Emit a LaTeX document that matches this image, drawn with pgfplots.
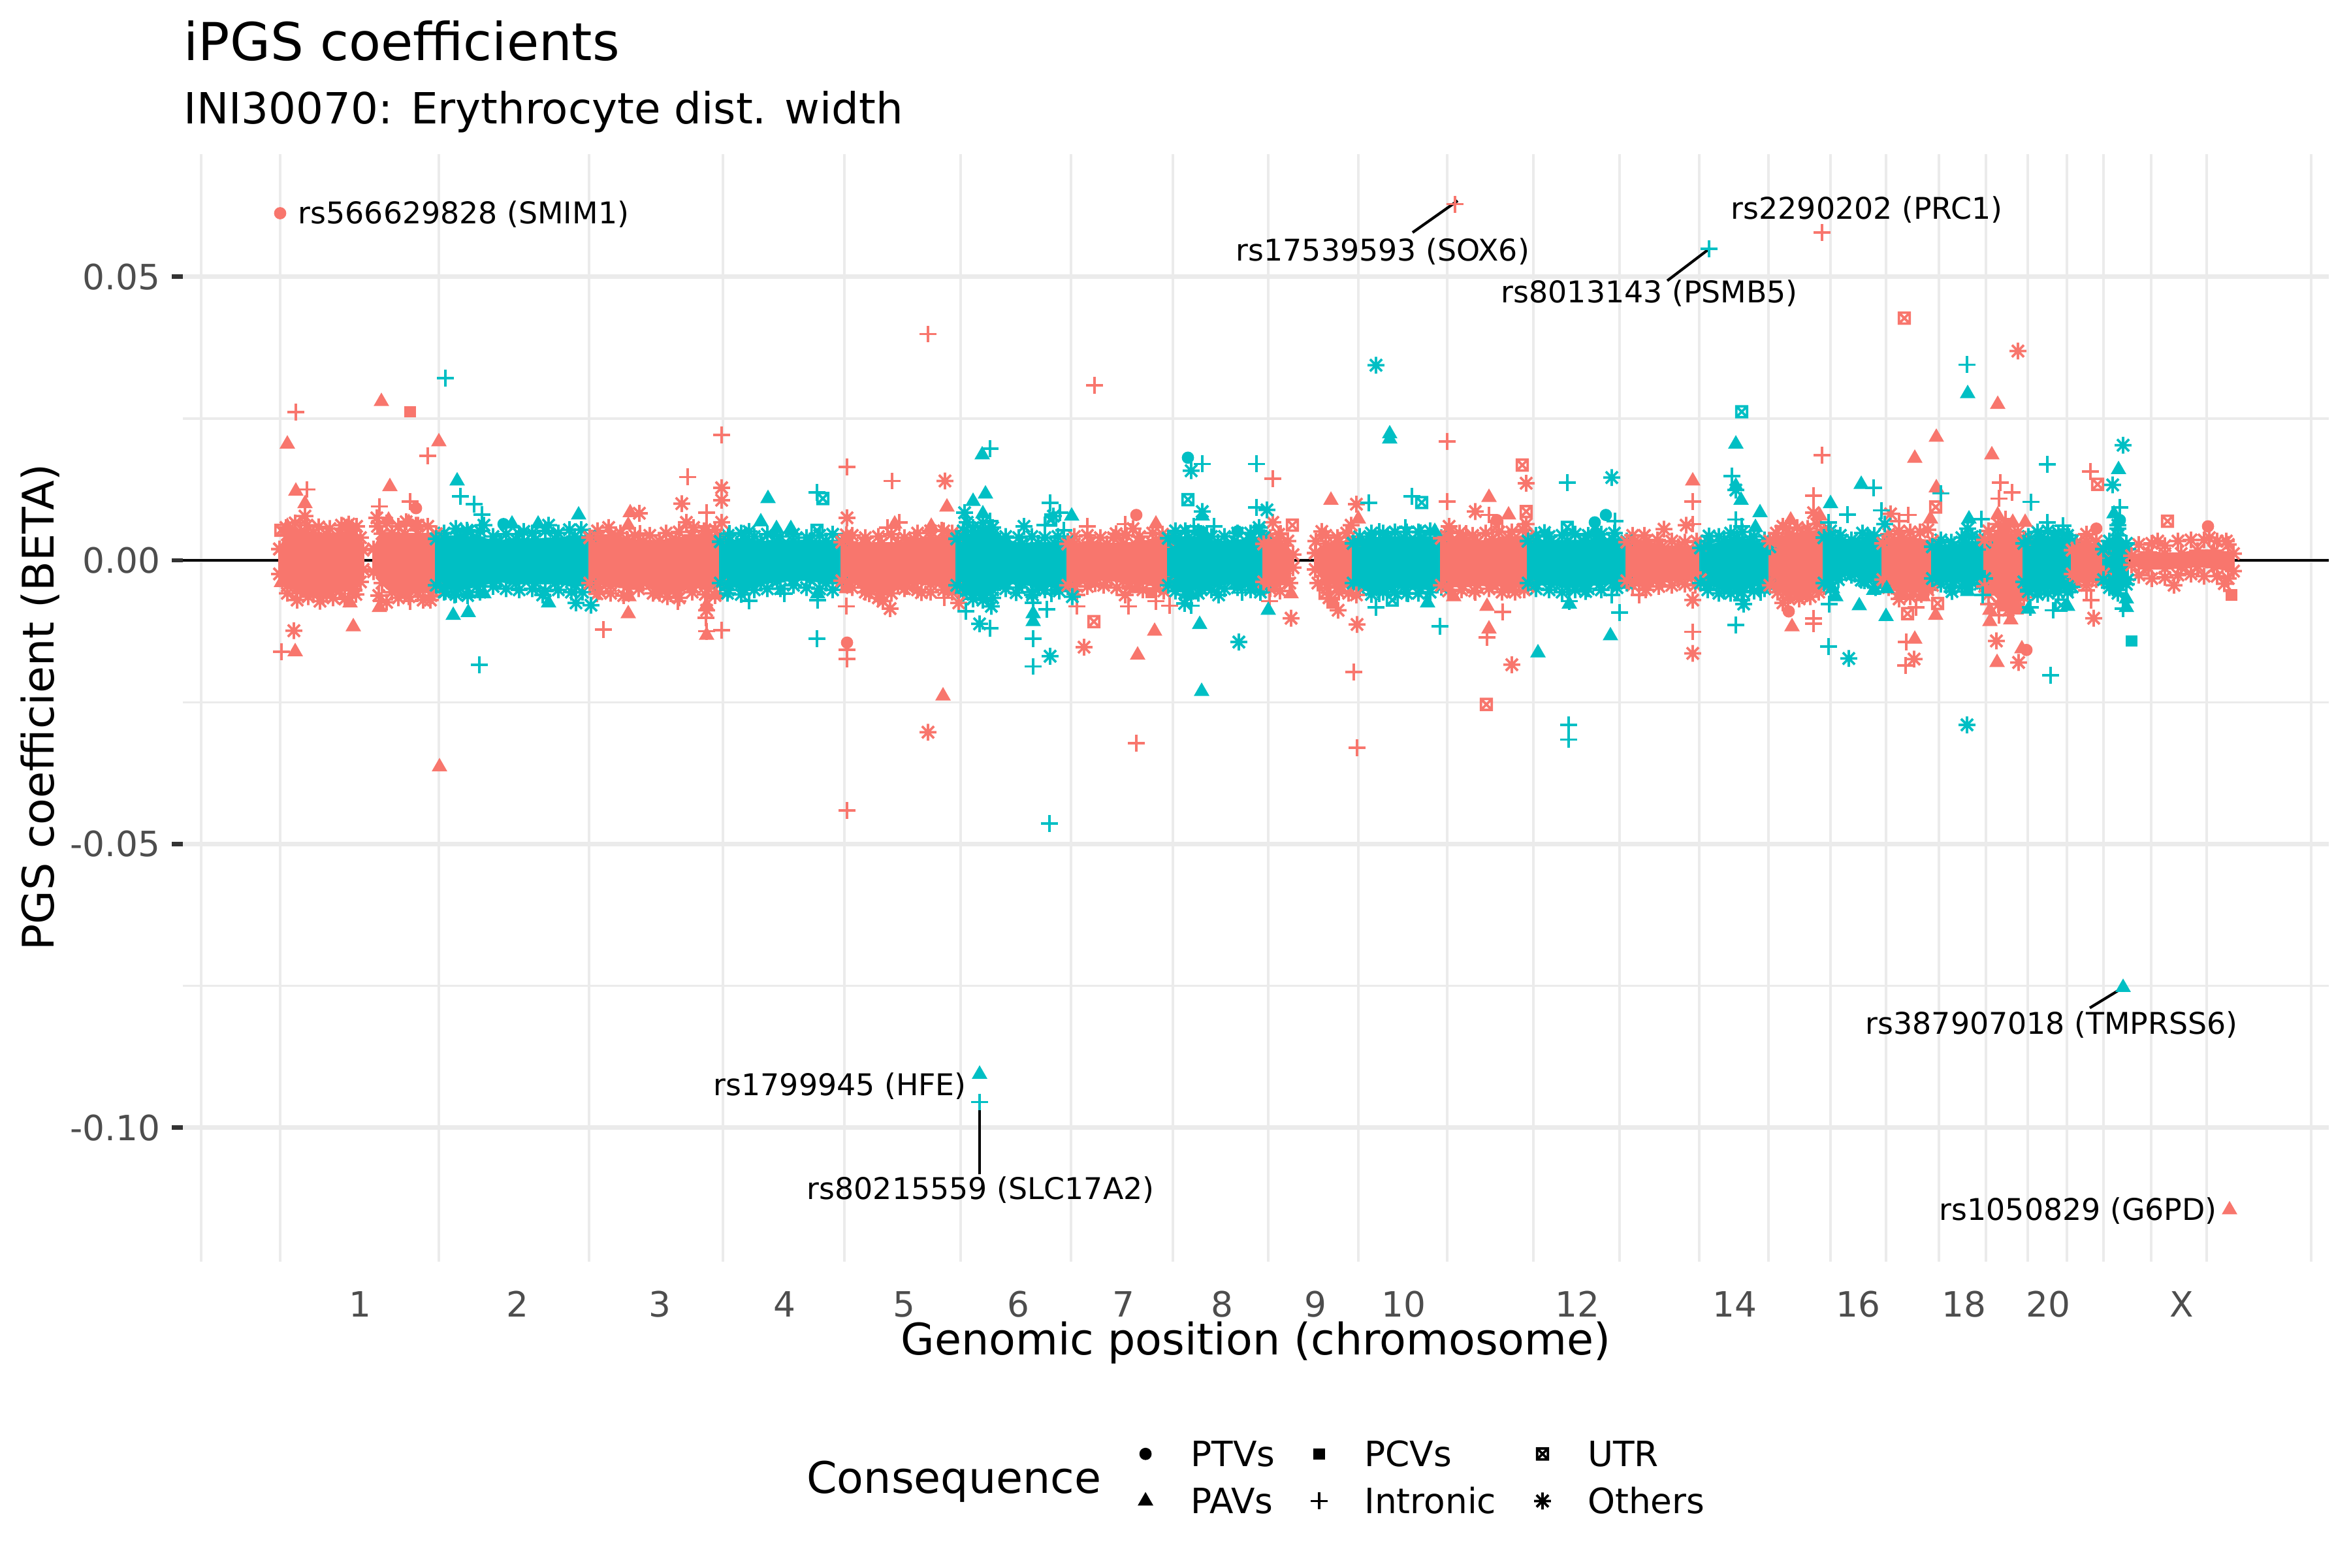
\documentclass[border=0pt]{standalone}
\usepackage{pgfplots}
\pgfplotsset{compat=1.18}
\usepackage{fontspec}
\setmainfont{DejaVu Sans}

\definecolor{cr}{HTML}{F8766D}
\definecolor{ct}{HTML}{00BFC4}
\definecolor{gridc}{HTML}{EBEBEB}
\definecolor{tickc}{HTML}{4D4D4D}

% R shapes 7 and 8
\pgfdeclareplotmark{sqx}{%
  \pgfpathrectangle{\pgfqpoint{-\pgfplotmarksize}{-\pgfplotmarksize}}{\pgfqpoint{2\pgfplotmarksize}{2\pgfplotmarksize}}%
  \pgfpathmoveto{\pgfqpoint{-\pgfplotmarksize}{-\pgfplotmarksize}}\pgfpathlineto{\pgfqpoint{\pgfplotmarksize}{\pgfplotmarksize}}%
  \pgfpathmoveto{\pgfqpoint{-\pgfplotmarksize}{\pgfplotmarksize}}\pgfpathlineto{\pgfqpoint{\pgfplotmarksize}{-\pgfplotmarksize}}%
  \pgfusepathqstroke}
\pgfdeclareplotmark{ast}{%
  \pgfpathmoveto{\pgfqpointpolar{0}{\pgfplotmarksize}}\pgfpathlineto{\pgfqpointpolar{180}{\pgfplotmarksize}}%
  \pgfpathmoveto{\pgfqpointpolar{90}{\pgfplotmarksize}}\pgfpathlineto{\pgfqpointpolar{270}{\pgfplotmarksize}}%
  \pgfpathmoveto{\pgfqpointpolar{45}{\pgfplotmarksize}}\pgfpathlineto{\pgfqpointpolar{225}{\pgfplotmarksize}}%
  \pgfpathmoveto{\pgfqpointpolar{135}{\pgfplotmarksize}}\pgfpathlineto{\pgfqpointpolar{315}{\pgfplotmarksize}}%
  \pgfusepathqstroke}

\tikzset{
  mptv/.style={mark=*,mark size=2.05pt,mark options={draw=none}},
  mpcv/.style={mark=square*,mark size=1.9pt,mark options={draw=none}},
  mpav/.style={mark=triangle*,mark size=2.9pt,mark options={draw=none}},
  mint/.style={mark=+,mark size=3.1pt,mark options={line width=0.9pt}},
  mutr/.style={mark=sqx,mark size=2pt,mark options={line width=0.9pt}},
  moth/.style={mark=ast,mark size=3.1pt,mark options={line width=0.9pt}},
}
\pgfplotsset{
  rr/.style={forget plot,only marks,color=cr},
  tt/.style={forget plot,only marks,color=ct},
  bandr/.style={forget plot,color=cr,fill=cr,line width=0.9pt,moth},
  bandt/.style={forget plot,color=ct,fill=ct,line width=0.9pt,moth},
  conn/.style={forget plot,black,line width=1pt,no marks},
}
\newcommand{\ann}[3]{\node[anchor=base west,inner sep=0pt,font=\fontsize{11}{12}\selectfont] at (axis cs:#1,#2) {#3};}

\begin{document}
\begin{tikzpicture}
\path[use as bounding box] (0,0) rectangle (864pt,576pt);

\begin{axis}[
  at={(67.2pt,112.32pt)},anchor=south west,
  scale only axis,width=788.64pt,height=407.04pt,
  xmin=280,xmax=3566,ymin=-0.12365,ymax=0.07162,
  clip=false,
  axis line style={draw=none},
  xtick={551,792,1010,1201,1384,1559,1720,1871,2014,2149,2415,2656,2845,3007,3136,3341},
  xticklabels={1,2,3,4,5,6,7,8,9,10,12,14,16,18,20,X},
  minor xtick={308,429,672,902,1107,1293,1471,1640,1796,1942,2080,2216,2348,2480,2602,2708,2803,2888,2969,3041,3105,3165,3221,3294,3379,3539},
  ytick={-0.1,-0.05,0,0.05},
  yticklabels={-0.10,-0.05,0.00,0.05},
  minor ytick={-0.075,-0.025,0.025},
  xmajorgrids=false,xminorgrids=true,ymajorgrids=true,yminorgrids=true,
  major grid style={gridc,line width=1.6pt},
  minor grid style={gridc,line width=0.8pt},
  tick align=outside,
  ytick pos=left,
  xtick style={draw=none},
  minor tick length=0pt,
  minor tick style={draw=none},
  ytick style={draw=black!80,line width=1.6pt},
  major tick length=4.08pt,
  xticklabel style={font=\fontsize{12.8}{14}\selectfont,color=tickc,anchor=base,inner sep=0pt,yshift=-16.3pt},
  yticklabel style={font=\fontsize{12.8}{14}\selectfont,color=tickc,anchor=east,inner sep=0pt,xshift=-4pt},
  legend columns=3,
  legend cell align=left,
  legend image code/.code={\path[draw=none] (-5pt,0pt) -- (5pt,0pt); \draw[#1] plot coordinates {(0pt,4.7pt)};},
  legend style={
    at={(axis description cs:0.4420,-0.16)},anchor=north west,
    draw=none,fill=none,inner sep=0pt,
    font=\fontsize{12.8}{14}\selectfont,
    nodes={inner sep=0pt,text height=10pt,text depth=7.3pt,anchor=base west},
    /tikz/column 2/.style={column sep=11.3pt},
    /tikz/column 4/.style={column sep=12pt},
    /tikz/column 1/.style={column sep=11.6pt},
    /tikz/column 3/.style={column sep=11.6pt},
    /tikz/column 5/.style={column sep=11.6pt},
  },
]
\addlegendimage{only marks,black,mptv}\addlegendentry{PTVs}
\addlegendimage{only marks,black,mpcv}\addlegendentry{PCVs}
\addlegendimage{only marks,black,mutr}\addlegendentry{UTR}
\addlegendimage{only marks,black,mpav}\addlegendentry{PAVs}
\addlegendimage{only marks,black,mint}\addlegendentry{Intronic}
\addlegendimage{only marks,black,moth}\addlegendentry{Others}

\addplot[forget plot,black,line width=1.1pt,no marks] coordinates {(280,0) (3566,0)};

% fringe of the dense bands, estimated along their edges
\addplot[rr,moth] coordinates {(438,0.0058)(452,0.0066)(470,0.0062)(488,0.0059)(505,0.0056)(523,0.0062)(534,0.0064)(546,0.0060)(578,0.0060)(592,0.0066)(610,0.0060)(622,0.0068)(640,0.0062)(655,0.0060)
 (440,-0.0058)(455,-0.0070)(472,-0.0064)(490,-0.0072)(510,-0.0066)(528,-0.0068)(545,-0.0060)(580,-0.0062)(592,-0.0074)(610,-0.0066)(626,-0.0064)(648,-0.0070)(660,-0.0062)
 (915,0.0052)(932,0.0058)(950,0.0048)(972,0.0044)(995,0.0044)(1020,0.0048)(1040,0.0050)(1062,0.0058)(1078,0.0052)(1095,0.0054)
 (918,-0.0055)(935,-0.0058)(955,-0.0062)(978,-0.0050)(1000,-0.0058)(1022,-0.0064)(1040,-0.0066)(1060,-0.0056)(1080,-0.0060)(1095,-0.0062)
 (1305,0.0044)(1325,0.0040)(1345,0.0042)(1365,0.0046)(1385,0.0040)(1405,0.0048)(1425,0.0052)(1445,0.0052)(1458,0.0048)
 (1305,-0.0048)(1325,-0.0056)(1345,-0.0066)(1365,-0.0058)(1385,-0.0050)(1405,-0.0052)(1425,-0.0056)(1445,-0.0052)(1458,-0.0056)
 (1645,0.0042)(1665,0.0044)(1685,0.0040)(1705,0.0040)(1725,0.0044)(1745,0.0042)(1765,0.0048)(1780,0.0046)
 (1645,-0.0052)(1665,-0.0046)(1690,-0.0044)(1710,-0.0048)(1730,-0.0046)(1750,-0.0052)(1770,-0.0050)(1782,-0.0054)
 (1945,0.0040)(1958,0.0046)(1972,0.0034)(2015,0.0034)(2030,0.0044)(2048,0.0040)(2062,0.0048)
 (1945,-0.0050)(1960,-0.0054)(1975,-0.0040)(2018,-0.0040)(2032,-0.0048)(2050,-0.0056)(2065,-0.0058)
 (2218,0.0050)(2235,0.0048)(2255,0.0044)(2275,0.0048)(2295,0.0050)(2315,0.0050)(2332,0.0054)
 (2218,-0.0054)(2238,-0.0052)(2258,-0.0054)(2280,-0.0050)(2300,-0.0056)(2320,-0.0056)(2334,-0.0052)
 (2500,0.0044)(2518,0.0044)(2538,0.0036)(2560,0.0034)(2580,0.0032)(2598,0.0034)
 (2500,-0.0044)(2520,-0.0052)(2540,-0.0046)(2560,-0.0044)(2580,-0.0042)(2596,-0.0044)
 (2720,0.0048)(2735,0.0056)(2752,0.0058)(2768,0.0056)(2782,0.0064)(2722,-0.0056)(2738,-0.0066)(2755,-0.0068)(2772,-0.0064)(2785,-0.0056)
 (2892,0.0046)(2908,0.0052)(2925,0.0050)(2940,0.0050)(2952,0.0054)(2892,-0.0048)(2908,-0.0058)(2925,-0.0064)(2942,-0.0060)(2952,-0.0052)
 (3045,0.0052)(3060,0.0064)(3075,0.0060)(3090,0.0050)(3045,-0.0060)(3060,-0.0078)(3075,-0.0088)(3090,-0.0070)
 (3180,0.0032)(3195,0.0046)(3210,0.0034)(3180,-0.0036)(3195,-0.0044)(3210,-0.0034)
 (3275,0.0028)(3295,0.0030)(3315,0.0026)(3335,0.0034)(3355,0.0036)(3375,0.0036)(3395,0.0034)(3412,0.0028)
 (3275,-0.0026)(3295,-0.0032)(3315,-0.0030)(3335,-0.0026)(3355,-0.0024)(3375,-0.0028)(3395,-0.0028)(3412,-0.0032)};
\addplot[tt,moth] coordinates {(680,0.0048)(698,0.0056)(716,0.0050)(735,0.0052)(755,0.0042)(775,0.0046)(795,0.0046)(815,0.0048)(835,0.0052)(855,0.0048)(872,0.0054)(890,0.0054)
 (680,-0.0056)(698,-0.0060)(716,-0.0062)(735,-0.0056)(755,-0.0046)(775,-0.0050)(795,-0.0052)(815,-0.0050)(835,-0.0054)(855,-0.0052)(875,-0.0056)(892,-0.0056)
 (1115,0.0044)(1135,0.0048)(1155,0.0042)(1175,0.0046)(1195,0.0042)(1215,0.0046)(1235,0.0040)(1255,0.0044)(1275,0.0046)
 (1115,-0.0052)(1135,-0.0060)(1155,-0.0052)(1175,-0.0050)(1195,-0.0050)(1215,-0.0044)(1235,-0.0048)(1255,-0.0050)(1275,-0.0052)
 (1475,0.0052)(1490,0.0058)(1505,0.0066)(1520,0.0058)(1540,0.0042)(1560,0.0040)(1580,0.0042)(1600,0.0040)(1620,0.0042)
 (1475,-0.0058)(1490,-0.0068)(1505,-0.0070)(1520,-0.0066)(1540,-0.0050)(1560,-0.0048)(1580,-0.0056)(1600,-0.0052)(1622,-0.0054)
 (1800,0.0052)(1815,0.0052)(1835,0.0050)(1855,0.0042)(1875,0.0042)(1895,0.0048)(1915,0.0048)(1928,0.0052)
 (1800,-0.0054)(1815,-0.0060)(1835,-0.0058)(1855,-0.0052)(1875,-0.0050)(1895,-0.0048)(1915,-0.0052)(1930,-0.0056)
 (2082,0.0042)(2100,0.0048)(2118,0.0048)(2136,0.0050)(2154,0.0050)(2172,0.0050)(2190,0.0052)
 (2082,-0.0050)(2100,-0.0060)(2118,-0.0056)(2136,-0.0056)(2154,-0.0058)(2172,-0.0058)(2190,-0.0056)
 (2352,0.0044)(2372,0.0042)(2392,0.0044)(2412,0.0046)(2432,0.0044)(2452,0.0046)(2472,0.0048)
 (2352,-0.0050)(2372,-0.0052)(2392,-0.0056)(2412,-0.0052)(2432,-0.0050)(2452,-0.0052)(2476,-0.0048)
 (2615,0.0034)(2632,0.0042)(2650,0.0048)(2668,0.0050)(2686,0.0042)(2702,0.0036)(2615,-0.0052)(2632,-0.0058)(2650,-0.0058)(2668,-0.0056)(2686,-0.0054)(2702,-0.0050)
 (2803,0.0052)(2818,0.0044)(2835,0.0036)(2852,0.0048)(2870,0.0044)(2803,-0.0050)(2815,-0.0034)(2835,-0.0026)(2855,-0.0036)(2872,-0.0048)
 (2972,0.0036)(2988,0.0032)(3004,0.0040)(3020,0.0042)(3032,0.0040)(2972,-0.0042)(2988,-0.0048)(3004,-0.0046)(3020,-0.0040)(3032,-0.0042)
 (3106,0.0042)(3120,0.0050)(3136,0.0052)(3152,0.0048)(3166,0.0044)(3106,-0.0052)(3120,-0.0060)(3136,-0.0058)(3152,-0.0056)(3166,-0.0056)
 (3230,0.0034)(3243,0.0056)(3256,0.0030)(3230,-0.0048)(3243,-0.0058)(3256,-0.0042)};

% dense band of each chromosome, its outline
\addplot[bandr] coordinates {(428,0.0020)(440,0.0045)(460,0.0050)(480,0.0048)(500,0.0046)(520,0.0047)(540,0.0053)(552,0.0040)(556,0.0018)(556,-0.0016)(552,-0.0038)(540,-0.0050)(520,-0.0053)(500,-0.0060)(480,-0.0060)(460,-0.0054)(440,-0.0045)(428,-0.0024)(428,0.0020)};
\addplot[bandr] coordinates {(572,0.0020)(585,0.0047)(600,0.0048)(620,0.0046)(640,0.0046)(668,0.0047)(668,-0.0051)(640,-0.0056)(620,-0.0059)(600,-0.0056)(585,-0.0040)(572,-0.0020)(572,0.0020)};
\addplot[bandt] coordinates {(668,0.0038)(680,0.0039)(700,0.0042)(730,0.0040)(760,0.0033)(790,0.0037)(820,0.0037)(850,0.0038)(880,0.0042)(903,0.0042)(903,-0.0042)(880,-0.0044)(850,-0.0040)(820,-0.0040)(790,-0.0040)(760,-0.0036)(730,-0.0046)(700,-0.0050)(680,-0.0047)(668,-0.0044)(668,0.0038)};
\addplot[bandr] coordinates {(903,0.0040)(915,0.0040)(935,0.0044)(960,0.0037)(985,0.0034)(1010,0.0034)(1035,0.0037)(1060,0.0044)(1085,0.0044)(1103,0.0040)(1103,-0.0042)(1085,-0.0050)(1060,-0.0046)(1035,-0.0058)(1010,-0.0058)(985,-0.0040)(960,-0.0047)(935,-0.0045)(915,-0.0040)(903,-0.0040)(903,0.0040)};
\addplot[bandt] coordinates {(1103,0.0033)(1115,0.0033)(1140,0.0037)(1165,0.0032)(1190,0.0034)(1215,0.0034)(1240,0.0034)(1265,0.0034)(1289,0.0034)(1289,-0.0040)(1265,-0.0040)(1240,-0.0034)(1215,-0.0034)(1190,-0.0037)(1165,-0.0040)(1140,-0.0052)(1115,-0.0042)(1103,-0.0040)(1103,0.0033)};
\addplot[bandr] coordinates {(1289,0.0032)(1300,0.0032)(1325,0.0029)(1350,0.0030)(1375,0.0030)(1400,0.0037)(1425,0.0040)(1450,0.0040)(1465,0.0040)(1465,-0.0046)(1450,-0.0047)(1425,-0.0042)(1400,-0.0040)(1375,-0.0045)(1350,-0.0060)(1325,-0.0046)(1300,-0.0037)(1289,-0.0036)(1289,0.0032)};
\addplot[bandt] coordinates {(1465,0.0038)(1475,0.0040)(1490,0.0045)(1505,0.0052)(1520,0.0046)(1540,0.0032)(1565,0.0029)(1590,0.0030)(1615,0.0030)(1635,0.0033)(1635,-0.0046)(1615,-0.0044)(1590,-0.0047)(1565,-0.0040)(1540,-0.0040)(1520,-0.0052)(1505,-0.0059)(1490,-0.0060)(1475,-0.0047)(1465,-0.0044)(1465,0.0038)};
\addplot[bandr] coordinates {(1635,0.0029)(1645,0.0029)(1670,0.0032)(1695,0.0029)(1720,0.0029)(1745,0.0032)(1770,0.0036)(1789,0.0037)(1789,-0.0043)(1770,-0.0043)(1745,-0.0040)(1720,-0.0037)(1695,-0.0034)(1670,-0.0034)(1645,-0.0045)(1635,-0.0044)(1635,0.0029)};
\addplot[bandt] coordinates {(1789,0.0039)(1800,0.0040)(1820,0.0040)(1840,0.0037)(1865,0.0032)(1890,0.0034)(1915,0.0037)(1935,0.0040)(1935,-0.0047)(1915,-0.0045)(1890,-0.0040)(1865,-0.0042)(1840,-0.0050)(1820,-0.0050)(1800,-0.0045)(1789,-0.0044)(1789,0.0039)};
\addplot[bandr] coordinates {(1935,0.0029)(1943,0.0029)(1955,0.0034)(1968,0.0026)(1980,0.0010)(1980,-0.0013)(1968,-0.0032)(1955,-0.0042)(1943,-0.0040)(1935,-0.0038)(1935,0.0029)};
\addplot[bandr] coordinates {(2014,0.0013)(2030,0.0029)(2050,0.0032)(2072,0.0034)(2072,-0.0047)(2050,-0.0045)(2030,-0.0037)(2014,-0.0016)(2014,0.0013)};
\addplot[bandt] coordinates {(2072,0.0030)(2080,0.0032)(2100,0.0037)(2125,0.0040)(2150,0.0040)(2175,0.0040)(2207,0.0040)(2207,-0.0047)(2175,-0.0050)(2150,-0.0047)(2125,-0.0047)(2100,-0.0052)(2080,-0.0042)(2072,-0.0040)(2072,0.0030)};
\addplot[bandr] coordinates {(2207,0.0039)(2218,0.0040)(2240,0.0040)(2262,0.0032)(2285,0.0037)(2310,0.0040)(2340,0.0042)(2340,-0.0046)(2310,-0.0046)(2285,-0.0043)(2262,-0.0043)(2240,-0.0045)(2218,-0.0045)(2207,-0.0044)(2207,0.0039)};
\addplot[bandt] coordinates {(2340,0.0034)(2352,0.0034)(2375,0.0034)(2400,0.0034)(2425,0.0034)(2450,0.0037)(2470,0.0037)(2491,0.0034)(2491,-0.0040)(2470,-0.0040)(2450,-0.0042)(2425,-0.0043)(2400,-0.0047)(2375,-0.0042)(2352,-0.0042)(2340,-0.0040)(2340,0.0034)};
\addplot[bandr] coordinates {(2491,0.0032)(2502,0.0033)(2520,0.0034)(2545,0.0024)(2570,0.0024)(2604,0.0024)(2604,-0.0034)(2570,-0.0034)(2545,-0.0037)(2520,-0.0042)(2502,-0.0037)(2491,-0.0036)(2491,0.0032)};
\addplot[bandt] coordinates {(2604,0.0022)(2615,0.0024)(2640,0.0034)(2660,0.0040)(2680,0.0034)(2710,0.0024)(2710,-0.0044)(2680,-0.0044)(2660,-0.0050)(2640,-0.0050)(2615,-0.0042)(2604,-0.0040)(2604,0.0022)};
\addplot[bandr] coordinates {(2710,0.0034)(2722,0.0037)(2740,0.0047)(2760,0.0047)(2793,0.0054)(2793,-0.0046)(2760,-0.0062)(2740,-0.0060)(2722,-0.0047)(2710,-0.0044)(2710,0.0034)};
\addplot[bandt] coordinates {(2793,0.0040)(2803,0.0040)(2820,0.0034)(2840,0.0029)(2860,0.0040)(2883,0.0032)(2883,-0.0042)(2860,-0.0034)(2840,-0.0024)(2830,-0.0016)(2820,-0.0024)(2803,-0.0040)(2793,-0.0040)(2793,0.0040)};
\addplot[bandr] coordinates {(2883,0.0030)(2892,0.0034)(2910,0.0040)(2930,0.0037)(2959,0.0034)(2959,-0.0044)(2930,-0.0055)(2910,-0.0052)(2892,-0.0037)(2883,-0.0034)(2883,0.0030)};
\addplot[bandt] coordinates {(2959,0.0024)(2970,0.0026)(2990,0.0024)(3010,0.0032)(3039,0.0032)(3039,-0.0032)(3010,-0.0037)(2990,-0.0037)(2970,-0.0034)(2959,-0.0032)(2959,0.0024)};
\addplot[bandr] coordinates {(3039,0.0036)(3048,0.0040)(3065,0.0052)(3085,0.0042)(3099,0.0036)(3099,-0.0065)(3080,-0.0080)(3065,-0.0072)(3048,-0.0052)(3039,-0.0046)(3039,0.0036)};
\addplot[bandt] coordinates {(3099,0.0030)(3106,0.0034)(3125,0.0042)(3145,0.0040)(3173,0.0034)(3173,-0.0047)(3145,-0.0050)(3125,-0.0050)(3106,-0.0042)(3099,-0.0038)(3099,0.0030)};
\addplot[bandr] coordinates {(3173,0.0018)(3180,0.0021)(3195,0.0034)(3221,0.0018)(3221,-0.0024)(3195,-0.0037)(3180,-0.0029)(3173,-0.0024)(3173,0.0018)};
\addplot[bandt] coordinates {(3221,0.0020)(3230,0.0024)(3243,0.0044)(3258,0.0020)(3258,-0.0034)(3243,-0.0052)(3230,-0.0040)(3221,-0.0034)(3221,0.0020)};
\addplot[bandr] coordinates {(3264,0.0008)(3290,0.0014)(3315,0.0012)(3340,0.0012)(3365,0.0017)(3390,0.0017)(3420,0.0012)(3420,-0.0019)(3390,-0.0012)(3365,-0.0010)(3340,-0.0012)(3315,-0.0014)(3290,-0.0014)(3264,-0.0008)(3264,0.0008)};

% single variants
\addplot[rr,mptv] coordinates {(429,0.0612)(637,0.0092)(1297,-0.0145)(1740,0.0080)(2292,0.0071)(2739,-0.0090)(3103,-0.0158)(3210,0.0056)(3381,0.0060)};
\addplot[rr,mpcv] coordinates {(628,0.0262)(1763,-0.0057)(2040,-0.0075)(3090,-0.0086)(3417,-0.0061)};
\addplot[rr,mpav] coordinates {(440,0.0205)(584,0.0280)(672,0.0209)(453,0.0122)(467,0.0100)(597,0.0130)(595,0.0071)(626,0.0067)(538,0.0058)(440,0.0060)
 (431,-0.0039)(536,-0.0075)(541,-0.0117)(581,-0.0083)(452,-0.0161)(673,-0.0364)(965,0.0084)(962,0.0062)(962,-0.0094)(963,-0.0064)
 (1082,-0.0132)(1082,-0.0079)(1096,-0.0061)(1370,0.0064)(1296,-0.0050)(1450,0.0094)(1426,0.0060)(1444,-0.0239)(1770,0.0064)(1740,-0.0050)
 (1768,-0.0125)(1742,-0.0167)(1977,-0.0059)(2038,0.0106)(2080,0.0073)(2226,-0.0064)(2280,0.0111)(2310,0.0080)(2277,-0.0081)(2280,-0.0121)
 (2592,0.0140)(2742,0.0071)(2787,0.0078)(2744,-0.0117)(2765,-0.0061)(2965,0.0217)(2932,0.0180)(2965,0.0128)(2956,0.0073)(2964,-0.0097)
 (2932,-0.0139)(2945,-0.0064)(3059,0.0275)(3050,0.0186)(3059,0.0080)(3082,0.0067)(3101,0.0067)(3047,-0.0088)(3047,-0.0108)(3079,-0.0105)
 (3058,-0.0180)(3096,-0.0156)(3414,-0.1145)};
\addplot[rr,mint] coordinates {(2228,0.0628)(2790,0.0578)(1421,0.0399)(1676,0.0309)(453,0.0261)(655,0.0184)(470,0.0125)(581,0.0095)(628,0.0104)(461,0.0053)
 (495,-0.0063)(584,-0.0071)(628,-0.0072)(431,-0.0161)(1105,0.0221)(1053,0.0147)(1082,0.0084)(980,0.0047)(1082,0.0060)(924,-0.0122)
 (1038,-0.0072)(1082,-0.0125)(1105,-0.0123)(1081,-0.0101)(1297,0.0165)(1366,0.0140)(1359,0.0058)(1377,0.0067)(1296,-0.0081)(1297,-0.0158)
 (1297,-0.0174)(1297,-0.0441)(1442,0.0053)(1446,-0.0066)(1723,0.0064)(1665,0.0060)(1649,-0.0061)(1649,-0.0081)(1728,-0.0081)(1770,-0.0072)
 (1791,-0.0080)(1740,-0.0322)(1949,0.0144)(1961,0.0047)(1944,-0.0072)(2073,-0.0197)(2078,-0.0330)(2216,0.0210)(2216,0.0104)(2280,0.0080)
 (2245,0.0047)(2275,0.0047)(2259,-0.0057)(2301,-0.0091)(2277,-0.0136)(2592,0.0104)(2592,0.0064)(2510,-0.0061)(2592,-0.0126)(2790,0.0185)
 (2777,0.0114)(2755,-0.0068)(2777,-0.0102)(2777,-0.0112)(2922,0.0080)(2908,0.0069)(2919,-0.0144)(2918,-0.0185)(2934,-0.0083)(3063,0.0137)
 (3081,0.0120)(3061,0.0109)(3071,0.0073)(3061,-0.0097)(3045,-0.0077)(3201,0.0157)(3195,-0.0053)(3202,-0.0070)};
\addplot[rr,mutr] coordinates {(430,0.0053)(1675,-0.0108)(1979,0.0062)(2029,-0.0058)(2331,0.0168)(2337,0.0086)(2292,0.0060)(2276,-0.0254)(2739,-0.0061)(2916,0.0427)
 (2964,0.0094)(2967,-0.0076)(2921,-0.0094)(3074,-0.0077)(3212,0.0134)(3319,0.0069)};
\addplot[rr,moth] coordinates {(3090,0.0369)(1421,-0.0303)(467,0.0078)(577,0.0075)(637,0.0062)(542,-0.0053)(659,-0.0070)(450,-0.0124)(1105,0.0128)(1105,0.0106)
 (1044,0.0100)(1051,0.0067)(1105,0.0067)(979,0.0083)(1082,-0.0088)(914,-0.0059)(1297,0.0075)(1296,0.0045)(1331,-0.0059)(1352,-0.0072)
 (1363,-0.0085)(1389,-0.0046)(1447,0.0140)(1411,-0.0057)(1468,-0.0075)(1735,0.0056)(1709,0.0047)(1677,-0.0041)(1723,-0.0061)(1660,-0.0153)
 (1949,0.0067)(1977,-0.0102)(2077,0.0099)(2069,0.0062)(2024,0.0051)(2035,-0.0066)(2049,-0.0088)(2077,-0.0061)(2078,-0.0113)(2337,0.0136)
 (2259,0.0086)(2219,0.0060)(2337,0.0064)(2310,-0.0050)(2315,-0.0184)(2548,0.0055)(2582,0.0062)(2592,-0.0070)(2592,-0.0164)(2777,0.0084)
 (2730,0.0060)(2730,-0.0075)(2895,0.0082)(2908,-0.0068)(2931,-0.0174)(3057,-0.0142)(3091,-0.0180)(3206,-0.0102)(3383,0.0040)(3409,0.0034)
 (3304,0.0034)(3329,-0.0044)(3406,-0.0041)};

\addplot[tt,mptv] coordinates {(771,0.0064)(1819,0.0181)(1895,0.0051)(2459,0.0080)(2442,0.0067)(2443,0.0049)(3246,0.0071)(3237,-0.0050)};
\addplot[tt,mpcv] coordinates {(1841,0.0049)(3264,-0.0142)};
\addplot[tt,mpav] coordinates {(700,0.0140)(784,0.0064)(824,0.0064)(886,0.0080)(694,-0.0097)(717,-0.0092)(717,-0.0059)(741,-0.0059)(840,-0.0075)(1165,0.0068)
 (1189,0.0056)(1211,0.0056)(1176,0.0109)(1252,-0.0059)(2128,0.0223)(2128,0.0214)(1504,0.0186)(1509,0.0117)(1490,0.0104)(1505,0.0082)
 (1641,0.0078)(1582,-0.0094)(1582,-0.0108)(1841,0.0078)(1824,-0.0061)(1942,-0.0088)(1837,-0.0113)(1840,-0.0231)(2197,0.0051)(2125,-0.0044)
 (2186,-0.0075)(2355,-0.0163)(2466,-0.0133)(2403,-0.0077)(2658,0.0205)(2658,0.0131)(2666,0.0106)(2695,0.0084)(2688,0.0058)(2803,0.0100)
 (2850,0.0134)(2806,-0.0050)(2811,-0.0064)(2869,-0.0053)(2889,-0.0050)(2847,-0.0080)(2888,-0.0099)(3013,0.0294)(3015,0.0073)(3013,-0.0055)
 (3106,-0.0086)(3166,-0.0081)(3244,0.0160)(3237,0.0082)(3256,-0.0068)(3256,-0.0083)(1500,-0.0906)(3251,-0.0753)};
\addplot[tt,mint] coordinates {(682,0.0321)(705,0.0113)(726,0.0099)(738,0.0081)(696,-0.0061)(734,-0.0184)(882,-0.0057)(1117,0.0047)(1251,0.0120)(1147,-0.0071)
 (1201,-0.0059)(1251,-0.0138)(1252,-0.0070)(1516,0.0197)(1608,0.0101)(1623,0.0084)(1600,0.0062)(1629,0.0053)(1516,0.0069)(1479,-0.0090)
 (1516,-0.0120)(1582,-0.0138)(1582,-0.0187)(1603,-0.0086)(1582,-0.0075)(1610,-0.0059)(1607,-0.0464)(1841,0.0170)(1924,0.0170)(1924,0.0093)
 (1828,0.0060)(1859,0.0060)(1824,-0.0080)(1902,-0.0057)(1930,-0.0057)(2096,0.0101)(2162,0.0113)(2152,0.0058)(2112,0.0051)(2175,0.0049)
 (2107,-0.0083)(2112,-0.0059)(2156,-0.0059)(2205,-0.0116)(2400,0.0137)(2473,0.0069)(2480,-0.0092)(2468,-0.0061)(2403,-0.0072)(2402,-0.0290)
 (2402,-0.0316)(2617,0.0549)(2652,0.0149)(2658,0.0072)(2667,0.0060)(2667,-0.0070)(2696,-0.0057)(2658,-0.0114)(2800,0.0067)(2829,0.0081)
 (2869,0.0128)(2881,0.0088)(2801,-0.0077)(2800,-0.0152)(2972,0.0118)(3012,0.0345)(3110,0.0103)(3034,0.0073)(3036,-0.0061)(3135,0.0169)
 (3135,0.0067)(3159,0.0061)(3109,-0.0083)(3144,-0.0088)(3140,-0.0203)(3246,0.0093)(3251,-0.0085)(1500,-0.0955)};
\addplot[tt,mutr] coordinates {(1260,0.0109)(1251,0.0053)(1609,0.0071)(1819,0.0107)(2177,0.0102)(2132,-0.0070)(2400,0.0058)(2667,0.0262)(3160,0.0045)(3156,-0.0079)};
\addplot[tt,moth] coordinates {(741,0.0062)(715,0.0053)(840,0.0062)(802,0.0051)(682,-0.0055)(831,-0.0061)(882,-0.0075)(905,-0.0079)(1147,0.0051)(1114,-0.0058)
 (2107,0.0344)(1477,0.0084)(1481,0.0067)(1613,0.0078)(1568,0.0060)(1500,-0.0112)(1518,-0.0081)(1608,-0.0169)(1581,-0.0061)(1556,-0.0057)
 (1642,-0.0064)(1824,0.0158)(1940,0.0089)(1841,0.0086)(1928,0.0058)(1814,-0.0076)(1866,-0.0061)(1897,-0.0144)(2468,0.0146)(2365,0.0049)
 (2428,-0.0055)(2658,0.0124)(2617,0.0043)(2647,-0.0050)(2670,-0.0077)(2886,0.0064)(2850,-0.0035)(2831,-0.0173)(3013,0.0056)(2989,-0.0055)
 (3012,-0.0290)(3166,-0.0046)(3106,-0.0055)(3251,0.0203)(3235,0.0133)(3243,0.0062)};

% connectors of the labels
\addplot[conn] coordinates {(2232,0.0634) (2163,0.0578)};
\addplot[conn] coordinates {(2617,0.0549) (2553,0.0493)};
\addplot[conn] coordinates {(1500,-0.0958) (1500,-0.1082)};
\addplot[conn] coordinates {(3247,-0.0756) (3200,-0.0789)};

\ann{456}{0.05936}{rs566629828 (SMIM1)}
\ann{1892}{0.0528}{rs17539593 (SOX6)}
\ann{2650}{0.0602}{rs2290202 (PRC1)}
\ann{2298}{0.0454}{rs8013143 (PSMB5)}
\ann{1092}{-0.0944}{rs1799945 (HFE)}
\ann{1235}{-0.1127}{rs80215559 (SLC17A2)}
\ann{2856}{-0.0835}{rs387907018 (TMPRSS6)}
\ann{2969}{-0.1163}{rs1050829 (G6PD)}
\end{axis}

\node[anchor=base west,inner sep=0pt,font=\fontsize{19.2}{22}\selectfont] at (67.4pt,553.9pt) {iPGS coefficients};
\node[anchor=base west,inner sep=0pt,font=\fontsize{15.8}{19}\selectfont] at (67.4pt,530.4pt) {INI30070: Erythrocyte dist. width};
\node[anchor=base,inner sep=0pt,font=\fontsize{16}{19}\selectfont] at (461.52pt,78.2pt) {Genomic position (chromosome)};
\node[anchor=base,inner sep=0pt,rotate=90,font=\fontsize{16}{19}\selectfont] at (19.9pt,316.16pt) {PGS coefficient (BETA)};
\node[anchor=base west,inner sep=0pt,font=\fontsize{16}{19}\selectfont] at (296.3pt,27.36pt) {Consequence};
\end{tikzpicture}
\end{document}
